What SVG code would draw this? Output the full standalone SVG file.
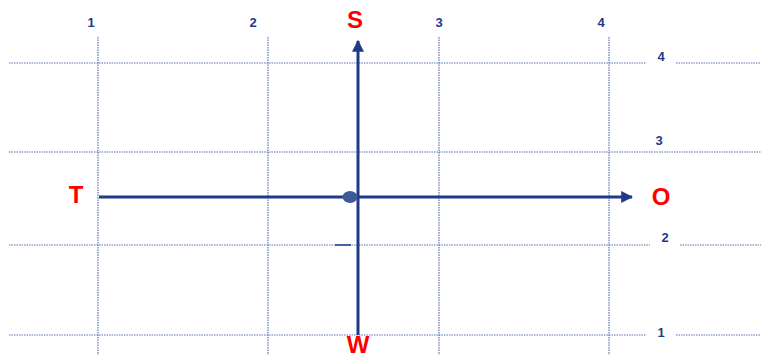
<svg xmlns="http://www.w3.org/2000/svg" width="761" height="355" viewBox="0 0 761 355">
<style>
.grid{stroke:#5a73b0;stroke-width:1.2;stroke-dasharray:1.5 1;fill:none}
.axis{stroke:#1f3a87;stroke-width:3;fill:none}
.num{font-family:"Liberation Sans",Arial,sans-serif;font-weight:bold;font-size:13px;fill:#1f3a87;text-anchor:middle}
.dir{font-family:"Liberation Sans",Arial,sans-serif;font-weight:bold;font-size:24px;fill:#ff0000;text-anchor:middle}
</style>
<defs>
<marker id="arr" viewBox="0 0 10 10" refX="9" refY="5" markerWidth="4" markerHeight="4" orient="auto" markerUnits="strokeWidth">
<path d="M0,0 L10,5 L0,10 z" fill="#1f3a87"/>
</marker>
</defs>
<g id="grid">
<line class="grid" x1="98" y1="37" x2="98" y2="355"/>
<line class="grid" x1="268" y1="37" x2="268" y2="355"/>
<line class="grid" x1="439" y1="37" x2="439" y2="355"/>
<line class="grid" x1="609" y1="37" x2="609" y2="355"/>
<line class="grid" x1="9" y1="63" x2="646" y2="63"/>
<line class="grid" x1="676" y1="63" x2="761" y2="63"/>
<line class="grid" x1="9" y1="152" x2="761" y2="152"/>
<line class="grid" x1="9" y1="245" x2="650" y2="245"/>
<line class="grid" x1="680" y1="245" x2="761" y2="245"/>
<line class="grid" x1="9" y1="335" x2="646" y2="335"/>
<line class="grid" x1="676" y1="335" x2="761" y2="335"/>
</g>
<g id="labels">
<text class="num" x="91" y="27">1</text>
<text class="num" x="253" y="27">2</text>
<text class="num" x="439" y="27">3</text>
<text class="num" x="601" y="27">4</text>
<text class="num" x="661" y="61">4</text>
<text class="num" x="659" y="145">3</text>
<text class="num" x="665" y="242">2</text>
<text class="num" x="661" y="337">1</text>
</g>
<g id="connectors">
<line class="axis" x1="358" y1="335" x2="358" y2="41" marker-end="url(#arr)"/>
<line class="axis" x1="99" y1="197" x2="632" y2="197" marker-end="url(#arr)"/>
<line x1="335" y1="245" x2="351" y2="245" stroke="#1f3a87" stroke-width="1.5"/>
</g>
<g id="center"><ellipse cx="350" cy="197" rx="7.5" ry="6" fill="#3d5a96"/></g>
<g id="S"><text class="dir" x="355" y="28">S</text></g>
<g id="T"><text class="dir" x="76" y="203">T</text></g>
<g id="O"><text class="dir" x="661" y="205">O</text></g>
<g id="W"><text class="dir" x="358" y="353" font-size="22">W</text></g>
</svg>
